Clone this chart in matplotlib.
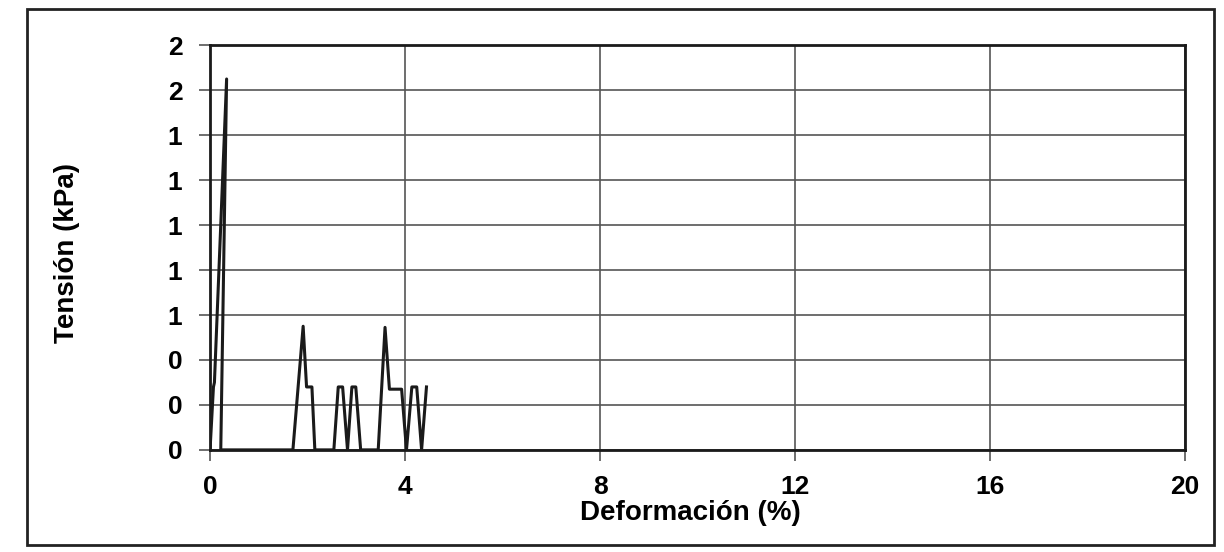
import matplotlib.pyplot as plt
from matplotlib.patches import Rectangle
from matplotlib.ticker import FuncFormatter

# Deformación (%) vs Tensión (kPa)
deformacion = [0.00, 0.07, 0.09, 0.34, 0.22, 1.70, 1.91, 1.98, 2.09, 2.15,
               2.54, 2.63, 2.72, 2.82, 2.91, 2.99, 3.09, 3.45, 3.59, 3.68,
               3.93, 4.03, 4.14, 4.24, 4.34, 4.44]
tension = [0.00, 0.28, 0.30, 1.65, 0.00, 0.00, 0.55, 0.28, 0.28, 0.00,
           0.00, 0.28, 0.28, 0.00, 0.28, 0.28, 0.00, 0.00, 0.545, 0.27,
           0.27, 0.00, 0.28, 0.28, 0.00, 0.28]

x_ticks = [0, 4, 8, 12, 16, 20]
y_ticks = [0.0, 0.2, 0.4, 0.6, 0.8, 1.0, 1.2, 1.4, 1.6, 1.8]

plt.rcParams['font.family'] = ['Liberation Sans', 'DejaVu Sans']

fig = plt.figure(figsize=(12.24, 5.52), dpi=100)
ax = fig.add_axes([0.1716, 0.185, 0.7965, 0.733])

ax.plot(deformacion, tension, color='#1a1a1a', lw=2.2, zorder=3)

ax.set_xlim(0, 20)
ax.set_ylim(0, 1.8)
ax.set_xticks(x_ticks)
ax.set_yticks(y_ticks)
ax.yaxis.set_major_formatter(FuncFormatter(lambda v, p: '%.0f' % v))
ax.grid(True, color='#555555', lw=1.2)
ax.set_axisbelow(True)
for s in ax.spines.values():
    s.set_linewidth(2.0)
    s.set_color('#1a1a1a')
ax.tick_params(direction='out', length=8, width=1.2, color='#555555',
               labelsize=19)
ax.tick_params(axis='x', pad=10)
ax.tick_params(axis='y', pad=12)
for lab in ax.get_xticklabels() + ax.get_yticklabels():
    lab.set_fontweight('bold')

# axis titles placed where the scan has them
fig.text(690 / 1224, 1 - 513 / 552, 'Deformación (%)', fontsize=20,
         fontweight='bold', ha='center', va='center')
fig.text(67 / 1224, 1 - 253 / 552, 'Tensión (kPa)', fontsize=20,
         fontweight='bold', ha='center', va='center', rotation=90)

# outer frame of the scanned chart
fig.patches.append(Rectangle((0.022, 0.012), 0.97, 0.972, transform=fig.transFigure,
                             fill=False, lw=2.0, ec='#222222'))

fig.savefig('out.png', dpi=100)
